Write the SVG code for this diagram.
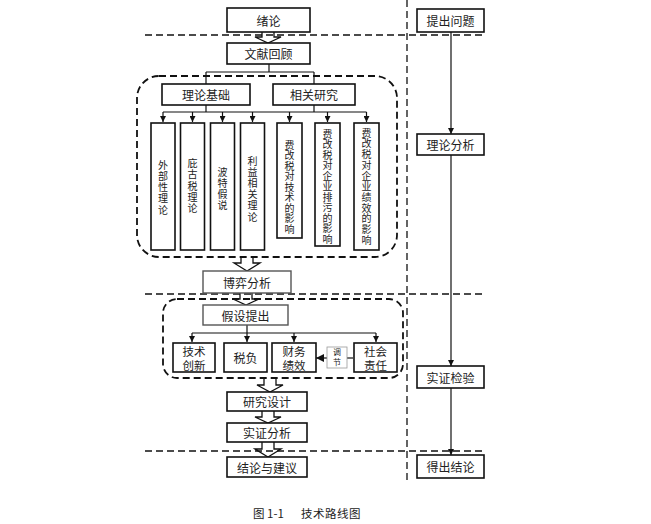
<svg xmlns="http://www.w3.org/2000/svg" width="651" height="524" viewBox="0 0 651 524">
<defs>
<marker id="ah" viewBox="0 0 8 8" refX="8" refY="4" markerWidth="6" markerHeight="6" orient="auto" markerUnits="userSpaceOnUse"><path d="M0,0 L8,4 L0,8 Z" fill="#111"/></marker>
<marker id="ahb" viewBox="0 0 8 8" refX="8" refY="4" markerWidth="8" markerHeight="8" orient="auto" markerUnits="userSpaceOnUse"><path d="M0,0 L8,4 L0,8 Z" fill="#111"/></marker>
<style>
.box{fill:#fff;stroke:#111;stroke-width:1.6}
.gbox{fill:#fff;stroke:#555;stroke-width:1.4}
.t{font-family:"Noto Sans CJK SC","Noto Sans CJK JP",sans-serif;font-size:12px;fill:#222;text-anchor:middle;dominant-baseline:central}
.v{font-family:"Noto Sans CJK SC","Noto Sans CJK JP",sans-serif;font-size:10px;fill:#222;text-anchor:middle;writing-mode:vertical-rl}
.dash{fill:none;stroke:#111;stroke-width:1.3;stroke-dasharray:7 4}
.dashb{fill:none;stroke:#111;stroke-width:1.8;stroke-dasharray:7 4}
.ln{fill:none;stroke:#111;stroke-width:1.2}
.blk{fill:none;stroke:#111;stroke-width:1.3}
</style>
</defs>
<rect width="651" height="524" fill="#fff"/>

<g id="dividers">
<path class="dash" d="M407,0 V482"/>
<path class="dash" d="M145,35 H482"/>
<path class="dash" d="M145,294 H482"/>
<path class="dash" d="M145,451 H482"/>
<rect class="dashb" x="137" y="76" width="260" height="181" rx="22"/>
<rect class="dashb" x="163" y="299" width="240" height="79" rx="14"/>
</g>

<g id="connectors">
<path class="ln" d="M269,64 V72"/>
<path class="ln" stroke-width="2" d="M206,72 H314"/>
<path class="ln" d="M206,72 V84 M314,72 V84"/>
<path class="ln" d="M206,105 V112 M314,105 V112 M163,112 H366.5"/>
<path class="ln" marker-end="url(#ah)" d="M163,112 V122"/>
<path class="ln" marker-end="url(#ah)" d="M192.5,112 V122"/>
<path class="ln" marker-end="url(#ah)" d="M222.5,112 V122"/>
<path class="ln" marker-end="url(#ah)" d="M252.5,112 V122"/>
<path class="ln" marker-end="url(#ah)" d="M289.5,112 V122"/>
<path class="ln" marker-end="url(#ah)" d="M327.5,112 V122"/>
<path class="ln" marker-end="url(#ah)" d="M366.5,112 V122"/>
<path class="ln" stroke-width="1.8" marker-end="url(#ah)" d="M247,325 V342"/>
<path class="ln" d="M192,333 H376"/>
<path class="ln" marker-end="url(#ah)" d="M192,333 V342"/>
<path class="ln" marker-end="url(#ah)" d="M294,333 V342"/>
<path class="ln" marker-end="url(#ah)" d="M376,333 V342"/>
<path class="ln" stroke-width="1.6" d="M353,358 H347"/>
<path class="ln" stroke-width="1.6" marker-end="url(#ahb)" d="M327,358 H316"/>
<path class="ln" marker-end="url(#ah)" d="M451,32 V134"/>
<path class="ln" marker-end="url(#ah)" d="M451,155 V366"/>
<path class="ln" marker-end="url(#ah)" d="M451,388 V455"/>
<path class="blk" d="M262,32 V37 H255 L268,43 L281,37 H274 V32"/>
<path class="blk" d="M241,257 V263 H234 L247,271 L260,263 H253 V257"/>
<path class="blk" d="M240,293 V299 H233 L246,305 L259,299 H252 V293"/>
<path class="blk" d="M264,378 V385 H257 L270,392 L283,385 H276 V378"/>
<path class="blk" d="M262,411 V417 H255 L268,423 L281,417 H274 V411"/>
<path class="blk" d="M262,442 V449 H255 L268,457 L281,449 H274 V442"/>
</g>

<g id="n-xulun"><rect class="box" x="227" y="8" width="83" height="24"/><text class="t" x="268.5" y="20">绪论</text></g>
<g id="n-wenxian"><rect class="box" x="227" y="43" width="83" height="21"/><text class="t" x="268.5" y="53.5">文献回顾</text></g>
<g id="n-lilunjichu"><rect class="box" x="162" y="84" width="88" height="21"/><text class="t" x="206" y="94.5">理论基础</text></g>
<g id="n-xiangguan"><rect class="box" x="273" y="84" width="82" height="21"/><text class="t" x="314" y="94.5">相关研究</text></g>

<g id="n-b1"><rect class="box" x="151" y="123" width="24" height="127"/><text class="v" x="163" y="188" style="letter-spacing:1.25px">外部性理论</text></g>
<g id="n-b2"><rect class="box" x="180.5" y="123" width="24" height="127"/><text class="v" x="192.5" y="186.5" style="letter-spacing:1.25px">庇古税理论</text></g>
<g id="n-b3"><rect class="box" x="210.5" y="123" width="24" height="127"/><text class="v" x="222.5" y="189.5" style="letter-spacing:1px">波特假说</text></g>
<g id="n-b4"><rect class="box" x="240.5" y="123" width="24" height="127"/><text class="v" x="252.5" y="189.5" style="letter-spacing:1.2px">利益相关理论</text></g>
<g id="n-b5"><rect class="box" x="277" y="123" width="25" height="115"/><text class="v" x="289.5" y="187.3" style="letter-spacing:0.5px">费改税对技术的影响</text></g>
<g id="n-b6"><rect class="box" x="315" y="123" width="25" height="123"/><text class="v" x="327.5" y="186.8" style="letter-spacing:0.5px">费改税对企业排污的影响</text></g>
<g id="n-b7"><rect class="box" x="354" y="123" width="25" height="127"/><text class="v" x="366.5" y="186.8" style="letter-spacing:0.7px">费改税对企业绩效的影响</text></g>

<g id="n-boyi"><rect class="gbox" x="203" y="271" width="88" height="22"/><text class="t" x="247" y="282">博弈分析</text></g>
<g id="n-jiashe"><rect class="gbox" x="203" y="305" width="85" height="20"/><text class="t" x="245.5" y="315">假设提出</text></g>
<g id="n-jishu"><rect class="box" x="173" y="343" width="42" height="29"/><text class="t" style="font-size:11.5px"><tspan x="194" y="350.5">技术</tspan><tspan x="194" y="365">创新</tspan></text></g>
<g id="n-shuifu"><rect class="box" x="224" y="343" width="43" height="29"/><text class="t" x="245.5" y="357.5">税负</text></g>
<g id="n-caiwu"><rect class="box" x="272" y="343" width="44" height="29"/><text class="t" style="font-size:11.5px"><tspan x="294" y="350.5">财务</tspan><tspan x="294" y="365">绩效</tspan></text></g>
<g id="n-tiaojie"><rect x="327" y="347" width="20" height="21" fill="#fff" stroke="#999" stroke-width="0.8"/><text class="v" x="337" y="357.5" style="font-size:8px;letter-spacing:1.5px">调节</text></g>
<g id="n-shehui"><rect class="box" x="354" y="343" width="43" height="29"/><text class="t" style="font-size:11.5px"><tspan x="375.5" y="350.5">社会</tspan><tspan x="375.5" y="365">责任</tspan></text></g>

<g id="n-yanjiu"><rect class="box" x="227" y="392" width="80" height="19"/><text class="t" x="267" y="401.5">研究设计</text></g>
<g id="n-shizheng"><rect class="box" x="227" y="423" width="80" height="19"/><text class="t" x="267" y="432.5">实证分析</text></g>
<g id="n-jielun"><rect class="box" x="227" y="457" width="80" height="20"/><text class="t" x="267" y="467">结论与建议</text></g>

<g id="n-tichu"><rect class="box" x="417" y="9" width="67" height="23"/><text class="t" x="450.5" y="20.5">提出问题</text></g>
<g id="n-lilunfenxi"><rect class="box" x="417" y="134" width="67" height="21"/><text class="t" x="450.5" y="144.5">理论分析</text></g>
<g id="n-jianyan"><rect class="box" x="417" y="366" width="67" height="22"/><text class="t" x="450.5" y="377">实证检验</text></g>
<g id="n-dechu"><rect class="box" x="417" y="455" width="67" height="23"/><text class="t" x="450.5" y="466.5">得出结论</text></g>

<text class="t" style="font-size:11.5px;text-anchor:start" x="253" y="513">图 1-1</text>
<text class="t" style="font-size:11.5px;text-anchor:start;letter-spacing:0.5px" x="301" y="513">技术路线图</text>
</svg>
